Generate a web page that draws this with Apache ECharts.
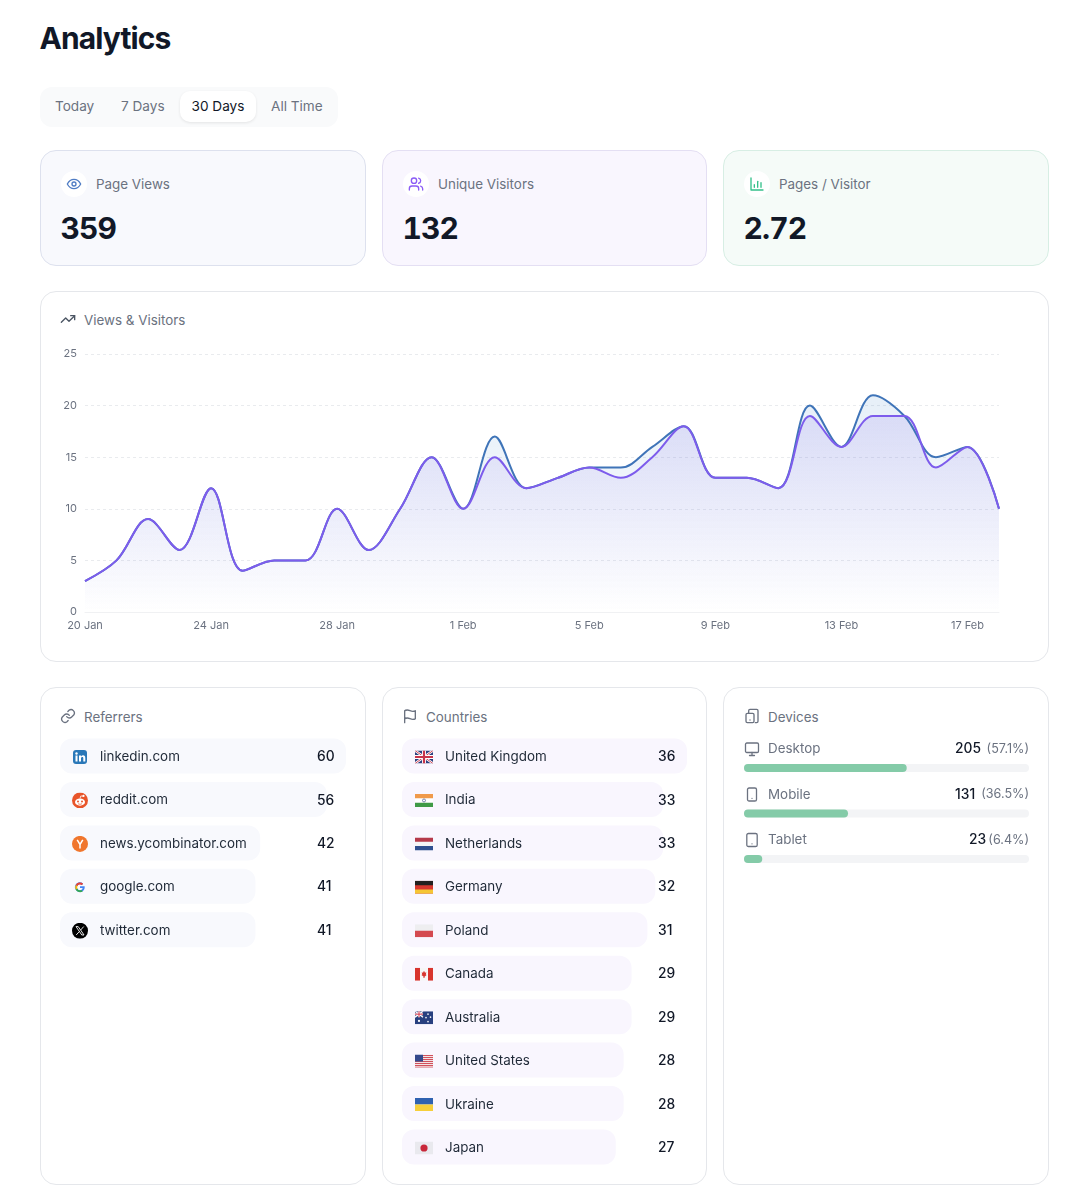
<!DOCTYPE html>
<html>
<head>
<meta charset="utf-8">
<title>Analytics</title>
<script src="https://cdn.jsdelivr.net/npm/echarts@6/dist/echarts.min.js"></script>
<style>
html,body{margin:0;padding:0;background:#fff;overflow:hidden;}
body{width:1089px;height:1199px;position:relative;font-family:Inter,"Noto Sans",sans-serif;color:#111827;}
.abs{position:absolute;}
h1{position:absolute;left:39.500px;top:18px;margin:0;font-size:30px;line-height:40px;font-weight:700;letter-spacing:-.9px;}
.tabs{position:absolute;left:40px;top:87px;width:298px;height:40px;background:#f9fafb;border-radius:12px;}
.tab{position:absolute;top:4px;height:31px;line-height:31px;font-size:13.600px;color:#6b7280;white-space:nowrap;}
.tab.on{left:140px;width:76px;text-align:center;color:#111827;background:#fff;border-radius:10px;box-shadow:0 1px 3px rgba(0,0,0,.09);}
.card{position:absolute;box-sizing:border-box;border-radius:16px;border:1px solid #e5e7eb;background:#fff;}
.stat{top:150px;height:116px;}
.statIcon{position:absolute;left:20px;top:20px;width:26px;height:26px;border-radius:13px;background:#fff;display:flex;align-items:center;justify-content:center;}
.statLabel{position:absolute;left:55px;top:24px;font-size:13.400px;line-height:18px;color:#6b7280;}
.statValue{position:absolute;left:19.500px;top:58px;font-size:30px;line-height:38px;font-weight:700;letter-spacing:-.9px;font-variant-numeric:tabular-nums;}
.head{position:absolute;font-size:13.400px;line-height:18px;color:#6b7280;white-space:nowrap;}
.head svg{position:absolute;top:0;left:-24px;}
</style>
</head>
<body>
<h1>Analytics</h1>
<div class="tabs">
  <div class="tab" style="left:15px">Today</div>
  <div class="tab" style="left:81px">7 Days</div>
  <div class="tab on">30 Days</div>
  <div class="tab" style="left:231px">All Time</div>
</div>

<div class="card stat" style="left:40px;width:326px;background:#f8f9fd;border-color:#dde1ee">
  <div class="statIcon"><svg width="16" height="16" viewBox="0 0 24 24" fill="none" stroke="#4f7cc4" stroke-width="2" stroke-linecap="round" stroke-linejoin="round"><path d="M2 12s3.600-7 10-7 10 7 10 7-3.600 7-10 7-10-7-10-7z"/><circle cx="12" cy="12" r="3"/></svg></div>
  <div class="statLabel">Page Views</div><div class="statValue">359</div>
</div>
<div class="card stat" style="left:382px;width:325px;background:#f9f6fe;border-color:#e4dff3">
  <div class="statIcon"><svg width="16" height="16" viewBox="0 0 24 24" fill="none" stroke="#8b5cf6" stroke-width="2" stroke-linecap="round" stroke-linejoin="round"><path d="M16 21v-2a4 4 0 0 0-4-4H6a4 4 0 0 0-4 4v2"/><circle cx="9" cy="7" r="4"/><path d="M22 21v-2a4 4 0 0 0-3-3.870"/><path d="M16 3.130a4 4 0 0 1 0 7.750"/></svg></div>
  <div class="statLabel">Unique Visitors</div><div class="statValue">132</div>
</div>
<div class="card stat" style="left:723px;width:326px;background:#f5fbf8;border-color:#d7eee4">
  <div class="statIcon"><svg width="16" height="16" viewBox="0 0 24 24" fill="none" stroke="#34c08a" stroke-width="2" stroke-linecap="round" stroke-linejoin="round"><path d="M3 3v18h18"/><path d="M8 17v-4"/><path d="M13 17V8"/><path d="M18 17v-7"/></svg></div>
  <div class="statLabel">Pages / Visitor</div><div class="statValue">2.72</div>
</div>

<div class="card" style="left:40px;top:291px;width:1009px;height:371px"></div>
<div class="head" style="left:84px;top:311px">Views &amp; Visitors
  <svg width="16" height="16" viewBox="0 0 24 24" fill="none" stroke="#4b5563" stroke-width="2" stroke-linecap="round" stroke-linejoin="round"><path d="M22 7l-8.500 8.500-5-5L2 17"/><path d="M16 7h6v6"/></svg></div>

<div class="card" style="left:40px;top:687px;width:326px;height:498px"></div>
<div class="head" style="left:84px;top:708px">Referrers
  <svg width="16" height="16" viewBox="0 0 24 24" fill="none" stroke="#6b7280" stroke-width="2" stroke-linecap="round" stroke-linejoin="round"><path d="M10 13a5 5 0 0 0 7.500.5l3-3a5 5 0 0 0-7-7l-1.700 1.700"/><path d="M14 11a5 5 0 0 0-7.500-.5l-3 3a5 5 0 0 0 7 7l1.700-1.700"/></svg></div>

<div class="card" style="left:382px;top:687px;width:325px;height:498px"></div>
<div class="head" style="left:426px;top:708px">Countries
  <svg width="16" height="16" viewBox="0 0 24 24" fill="none" stroke="#6b7280" stroke-width="2" stroke-linecap="round" stroke-linejoin="round"><path d="M4 22V4s1-1 4-1 5 2 8 2 4-1 4-1v12s-1 1-4 1-5-2-8-2-4 1-4 1"/></svg></div>

<div class="card" style="left:723px;top:687px;width:326px;height:498px"></div>
<div class="head" style="left:768px;top:708px">Devices
  <svg width="16" height="16" viewBox="0 0 24 24" fill="none" stroke="#6b7280" stroke-width="2" stroke-linecap="round" stroke-linejoin="round"><rect x="3" y="8" width="12" height="14" rx="2"/><path d="M7 8V4a2 2 0 0 1 2-2h10a2 2 0 0 1 2 2v16a2 2 0 0 1-2 2h-2"/><path d="M9 18h.01"/></svg></div>

<div id="trend" class="abs" style="left:41px;top:340px;width:1007px;height:300px"></div>
<div id="referrers" class="abs" style="left:41px;top:730px;width:324px;height:230px"></div>
<div id="countries" class="abs" style="left:383px;top:730px;width:323px;height:445px"></div>
<div id="devices" class="abs" style="left:724px;top:735px;width:324px;height:160px"></div>

<script>
var days = ['20 Jan','21 Jan','22 Jan','23 Jan','24 Jan','25 Jan','26 Jan','27 Jan','28 Jan','29 Jan','30 Jan','31 Jan',
    '1 Feb','2 Feb','3 Feb','4 Feb','5 Feb','6 Feb','7 Feb','8 Feb','9 Feb','10 Feb','11 Feb','12 Feb','13 Feb','14 Feb','15 Feb','16 Feb','17 Feb','18 Feb'];
var pageViews = [3,5,9,6,12,4,5,5,10,6,10,15,10,17,12,13,14,14,16,18,13,13,12,20,16,21,19,15,16,10];
var uniqueVisitors = [3,5,9,6,12,4,5,5,10,6,10,15,10,15,12,13,14,13,15,18,13,13,12,19,16,19,19,14,16,10];

var referrerNames = ['linkedin.com','reddit.com','news.ycombinator.com','google.com','twitter.com'];
var referrerValues = [60,56,42,41,41];

var countryNames = ['United Kingdom','India','Netherlands','Germany','Poland','Canada','Australia','United States','Ukraine','Japan'];
var countryValues = [36,33,33,32,31,29,29,28,28,27];

var deviceNames = ['Desktop','Mobile','Tablet'];
var deviceValues = [205,131,23];
var devicePercents = [57.1,36.5,6.4];

function svgUri(w, h, body) {
    var s = '<svg xmlns="http://www.w3.org/2000/svg" width="' + w * 2 + '" height="' + h * 2 + '" viewBox="0 0 ' + w + ' ' + h + '">' + body + '</svg>';
    return 'data:image/svg+xml;charset=utf-8,' + encodeURIComponent(s);
}

// 站点图标
var referrerIcons = [
    svgUri(16,16,'<rect x="1" y="1" width="14" height="14" rx="3" fill="#2a78b8"/><rect x="3.500" y="6.500" width="2" height="6" fill="#fff"/><circle cx="4.500" cy="4.500" r="1.200" fill="#fff"/><path d="M7 6.500h2v1c.5-.8 1.300-1.200 2.100-1.200 1.500 0 2.200 1 2.200 2.600v3.600h-2V9.300c0-.8-.3-1.300-1-1.300S9 8.600 9 9.400v3.100H7z" fill="#fff"/>'),
    svgUri(16,16,'<circle cx="8" cy="8" r="8" fill="#e8552a"/><ellipse cx="8" cy="9.600" rx="5" ry="3.600" fill="#fff"/><circle cx="6" cy="9" r="1" fill="#e8552a"/><circle cx="10" cy="9" r="1" fill="#e8552a"/><circle cx="11.500" cy="3.500" r="1.100" fill="#fff"/><path d="M8 6l.8-2.500 2.500.2" stroke="#fff" fill="none" stroke-width=".8"/><path d="M6 11.200c1.200.8 2.800.8 4 0" stroke="#e8552a" fill="none" stroke-width=".7"/>'),
    svgUri(16,16,'<circle cx="8" cy="8" r="8" fill="#f0762d"/><path d="M5.200 4l2.800 4.600L10.800 4M8 8.600V12.500" stroke="#fff" fill="none" stroke-width="1.500"/>'),
    svgUri(16,16,'<path d="M12.600 6.800H8v1.900h2.700a3 3 0 1 1-.8-3l1.300-1.400a4.900 4.900 0 1 0 1.400 2.500z" fill="#4285f4"/><path d="M3.700 5.600l1.700 1.200A3 3 0 0 1 9.900 5.700l1.300-1.400a4.900 4.900 0 0 0-7.500 1.300z" fill="#ea4335"/><path d="M3.700 10.400l1.700-1.300a3 3 0 0 1 0-2.300L3.700 5.600a4.900 4.900 0 0 0 0 4.800z" fill="#fbbc05"/><path d="M3.700 10.400a4.900 4.900 0 0 0 7.200 1.500L9.300 10.600a3 3 0 0 1-3.900-1.500z" fill="#34a853"/>'),
    svgUri(16,16,'<circle cx="8" cy="8" r="8" fill="#000"/><path d="M4 3.800h2.200l5.800 8.400H9.800z" fill="none" stroke="#fff" stroke-width=".9"/><path d="M11.700 3.800L8.600 7.300M7.200 8.900L4.200 12.200" stroke="#fff" stroke-width=".9"/>')
];

// 国旗
var flagIcons = [
    svgUri(18,13,'<rect width="18" height="13" rx="1" fill="#2b3f7e"/><path d="M0 0l18 13M18 0L0 13" stroke="#fff" stroke-width="2.400"/><path d="M0 0l18 13M18 0L0 13" stroke="#c8344a" stroke-width=".9"/><path d="M9 0v13M0 6.500h18" stroke="#fff" stroke-width="4"/><path d="M9 0v13M0 6.500h18" stroke="#c8344a" stroke-width="2.200"/>'),
    svgUri(18,13,'<rect width="18" height="13" fill="#fff"/><rect width="18" height="4.300" fill="#f09a4a"/><rect y="8.700" width="18" height="4.300" fill="#3f9a46"/><circle cx="9" cy="6.500" r="1.500" fill="none" stroke="#2b3f7e" stroke-width=".6"/>'),
    svgUri(18,13,'<rect width="18" height="13" fill="#f4f4f6"/><rect width="18" height="4.300" fill="#b5394a"/><rect y="8.700" width="18" height="4.300" fill="#2f4f8f"/>'),
    svgUri(18,13,'<rect width="18" height="13" fill="#d8372e"/><rect width="18" height="4.300" fill="#23201f"/><rect y="8.700" width="18" height="4.300" fill="#f5c634"/>'),
    svgUri(18,13,'<rect width="18" height="13" fill="#eeeef0"/><rect y="6.500" width="18" height="6.500" fill="#d44a50"/>'),
    svgUri(18,13,'<rect width="18" height="13" fill="#f6f6f6"/><rect width="5" height="13" fill="#d8352e"/><rect x="13" width="5" height="13" fill="#d8352e"/><path d="M9 3l1 2 1.300-.4-.5 2.200 .8.500-2.100 1.700v1.200h-1V8.800L6.400 7.300l.8-.5-.5-2.200 1.300.4z" fill="#d8352e"/>'),
    svgUri(18,13,'<rect width="18" height="13" fill="#28407f"/><path d="M0 0l8 6M8 0L0 6" stroke="#fff" stroke-width="1.300"/><path d="M4 0v6M0 3h8" stroke="#fff" stroke-width="2"/><path d="M4 0v6M0 3h8" stroke="#d4374a" stroke-width="1"/><circle cx="4" cy="9.800" r="1.100" fill="#fff"/><circle cx="13" cy="3" r=".8" fill="#fff"/><circle cx="15.500" cy="6" r=".8" fill="#fff"/><circle cx="13" cy="10.500" r=".8" fill="#fff"/><circle cx="11" cy="6.500" r=".8" fill="#fff"/>'),
    svgUri(18,13,'<rect width="18" height="13" fill="#f4f4f6"/><path d="M0 1h18M0 3h18M0 5h18M0 7h18M0 9h18M0 11h18M0 12.700h18" stroke="#cf3f4c" stroke-width="1"/><rect width="8" height="7" fill="#33498c"/>'),
    svgUri(18,13,'<rect width="18" height="6.500" fill="#2f62b0"/><rect y="6.500" width="18" height="6.500" fill="#f6cf3a"/>'),
    svgUri(18,13,'<rect width="18" height="13" fill="#e9e9ee"/><circle cx="9" cy="6.500" r="3.600" fill="#c8273a"/>')
];

var deviceIcons = [
    svgUri(16,16,'<g fill="none" stroke="#6b7280" stroke-width="1.300" stroke-linecap="round" stroke-linejoin="round"><rect x="1.500" y="2" width="13" height="9.500" rx="1.300"/><path d="M5.500 14.500h5M8 11.500v3"/></g>'),
    svgUri(16,16,'<g fill="none" stroke="#6b7280" stroke-width="1.300" stroke-linecap="round" stroke-linejoin="round"><rect x="3.500" y="1.500" width="9" height="13" rx="1.600"/><path d="M8 11.800h.01"/></g>'),
    svgUri(16,16,'<g fill="none" stroke="#6b7280" stroke-width="1.300" stroke-linecap="round" stroke-linejoin="round"><rect x="2.800" y="1.500" width="10.400" height="13" rx="1.600"/><path d="M8 11.800h.01"/></g>')
];

var FONT = 'Inter';

// 折线图
var trendChart = echarts.init(document.getElementById('trend'));
trendChart.setOption({
    animation: false,
    tooltip: { trigger: 'axis' },
    grid: { left: 44, right: 49, top: 14, bottom: 28 },
    xAxis: {
        type: 'category',
        boundaryGap: false,
        data: days,
        axisLine: { lineStyle: { color: '#f0f1f3' } },
        axisTick: { show: false },
        axisLabel: { interval: 3, color: '#6b7280', fontSize: 11, fontFamily: FONT, margin: 8, hideOverlap: false }
    },
    yAxis: {
        type: 'value',
        min: 0,
        max: 25,
        interval: 5,
        axisLine: { show: false },
        axisTick: { show: false },
        axisLabel: { color: '#6b7280', fontSize: 11, fontFamily: FONT, margin: 8 },
        splitLine: { lineStyle: { color: '#e9ebee', type: [3, 3] } }
    },
    series: [{
        name: 'Page Views',
        type: 'line',
        data: pageViews,
        smooth: 0.35,
        showSymbol: false,
        lineStyle: { color: '#3f74b8', width: 2 },
        areaStyle: {
            color: new echarts.graphic.LinearGradient(0, 0, 0, 1, [
                { offset: 0, color: 'rgba(59,130,200,0.18)' },
                { offset: 1, color: 'rgba(59,130,200,0)' }
            ])
        }
    }, {
        name: 'Unique Visitors',
        type: 'line',
        data: uniqueVisitors,
        smooth: 0.35,
        showSymbol: false,
        lineStyle: { color: '#7d5cec', width: 2 },
        areaStyle: {
            color: new echarts.graphic.LinearGradient(0, 0, 0, 1, [
                { offset: 0, color: 'rgba(124,92,232,0.2)' },
                { offset: 1, color: 'rgba(124,92,232,0)' }
            ])
        }
    }]
});

// 横向条形列表
function rowChart(id, names, values, icons, iconW, iconH, leftGap, nameGap, barColor) {
    var rich = { name: { color: '#1f2937', fontSize: 13.400, fontFamily: FONT, padding: [0, 0, 0, nameGap] } };
    icons.forEach(function (uri, i) {
        rich['i' + i] = { width: iconW, height: iconH, backgroundColor: { image: uri } };
    });
    var chart = echarts.init(document.getElementById(id));
    chart.setOption({
        animation: false,
        grid: { left: 19, right: 19, top: 4.300, height: values.length * 43.440 },
        xAxis: { type: 'value', min: 0, max: values[0], show: false },
        yAxis: [{
            type: 'category',
            inverse: true,
            z: 5,
            data: names,
            axisLine: { show: false },
            axisTick: { show: false },
            axisLabel: {
                inside: true,
                margin: leftGap,
                align: 'left',
                padding: [2, 0, 0, 0],
                formatter: function (v, i) { return '{i' + i + '|}{name|' + v + '}'; },
                rich: rich
            }
        }, {
            type: 'category',
            inverse: true,
            position: 'right',
            z: 5,
            data: values,
            axisLine: { show: false },
            axisTick: { show: false },
            axisLabel: {
                inside: true,
                margin: 12,
                align: 'right',
                padding: [2, 0, 0, 0],
                // 数字等宽，两位数统一从同一位置开始
                formatter: '{v|{value}}',
                rich: { v: { width: 17, align: 'left', color: '#111827', fontSize: 13.800, fontWeight: 500, fontFamily: FONT } }
            }
        }],
        series: [{
            type: 'bar',
            data: values,
            barWidth: 35,
            silent: true,
            itemStyle: { color: barColor, borderRadius: 12 }
        }]
    });
    return chart;
}

rowChart('referrers', referrerNames, referrerValues, referrerIcons, 16, 16, 12, 12, '#f8f9fd');
rowChart('countries', countryNames, countryValues, flagIcons, 18, 13, 13, 12, '#f9f6fe');

// 设备进度条
var deviceRich = { name: { color: '#6b7280', fontSize: 13.400, fontFamily: FONT, padding: [0, 0, 0, 8] } };
deviceIcons.forEach(function (uri, i) {
    deviceRich['i' + i] = { width: 16, height: 16, backgroundColor: { image: uri } };
});
var deviceChart = echarts.init(document.getElementById('devices'));
deviceChart.setOption({
    animation: false,
    grid: { left: 20, right: 19, top: 10.250, height: 136.500 },
    xAxis: { type: 'value', min: 0, max: 100, show: false },
    yAxis: [{
        type: 'category',
        inverse: true,
        z: 5,
        data: deviceNames,
        axisLine: { show: false },
        axisTick: { show: false },
        axisLabel: {
            inside: true,
            margin: 0,
            align: 'left',
            padding: [0, 0, 38, 0],
            formatter: function (v, i) { return '{i' + i + '|}{name|' + v + '}'; },
            rich: deviceRich
        }
    }, {
        type: 'category',
        inverse: true,
        position: 'right',
        z: 5,
        data: deviceValues,
        axisLine: { show: false },
        axisTick: { show: false },
        axisLabel: {
            inside: true,
            margin: 0,
            align: 'right',
            padding: [0, 0, 38, 0],
            formatter: function (v, i) {
                var pct = '(' + devicePercents[i] + '%)';
                return '{v' + String(v).length + '|' + v + '}{p' + pct.length + '|' + pct + '}';
            },
            rich: {
                v3: { width: 27, align: 'left', color: '#111827', fontSize: 13.800, fontWeight: 500, fontFamily: FONT },
                v2: { width: 21, align: 'left', color: '#111827', fontSize: 13.800, fontWeight: 500, fontFamily: FONT },
                p7: { width: 47, align: 'right', color: '#6b7280', fontSize: 12.600, fontFamily: FONT },
                p6: { width: 39, align: 'right', color: '#6b7280', fontSize: 12.600, fontFamily: FONT }
            }
        }
    }],
    series: [{
        type: 'bar',
        data: devicePercents,
        barWidth: 8,
        silent: true,
        showBackground: true,
        backgroundStyle: { color: '#f3f4f6', borderRadius: 4 },
        itemStyle: { color: '#84cba8', borderRadius: 4 }
    }]
});
</script>
</body>
</html>
